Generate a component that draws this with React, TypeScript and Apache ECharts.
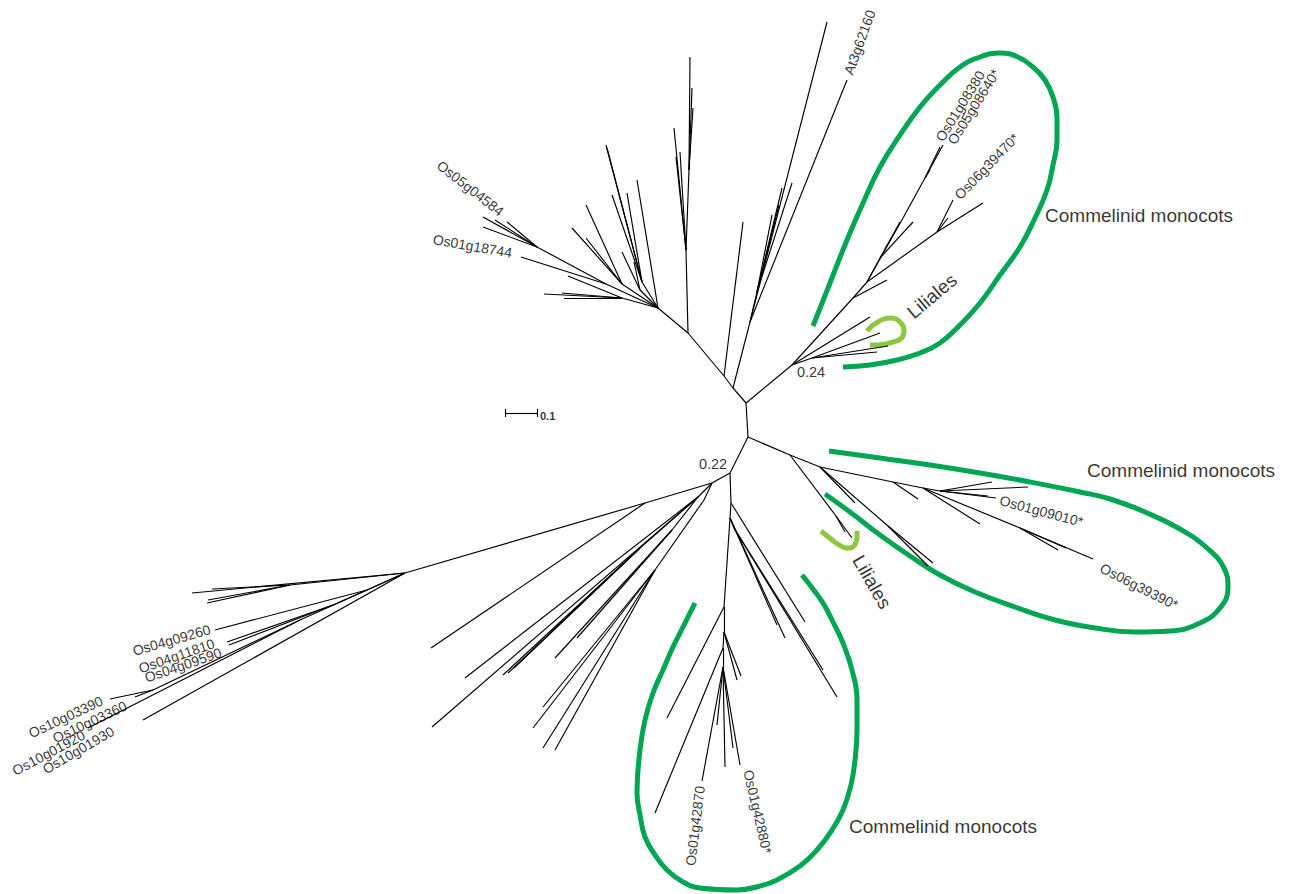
import React, { useEffect, useRef } from 'react';
import * as echarts from 'echarts';

const W = 1289;
const H = 894;

// Tree nodes: [id, parent, x, y] in drawing units (x to the right, y downward)
type NodeRow = [string, string, number, number];

const coreNodes: NodeRow[] = [
  ['A', '', 746, 403],
  ['J', 'A', 748, 437],
  ['K', 'J', 730, 473],
  ['B', 'A', 733, 388],
  ['M', 'A', 792, 365],
];

const dicotNodes: NodeRow[] = [
  ['G', 'B', 750, 322],
  ['t1', 'G', 827, 22],
  ['At3g62160', 'G', 847, 80],
  ['G2', 'G', 757, 292],
  ['g1', 'G2', 772, 215], ['g2', 'G2', 782, 188], ['g3', 'G2', 792, 183], ['g4', 'G2', 779, 205],
  ['E', 'B', 724, 376],
  ['e1', 'E', 743, 222],
  ['C', 'E', 688, 333],
  ['c1', 'C', 686, 250],
  ['c1a', 'c1', 674, 128], ['c1b', 'c1', 676, 157], ['c1c', 'c1', 680, 152],
  ['c2', 'c1', 689, 170],
  ['c2a', 'c2', 690, 57], ['c2b', 'c2', 692, 88], ['c2c', 'c2', 693, 108],
  ['D', 'C', 658, 308],
  ['d0', 'D', 637, 180],
  ['d1', 'D', 642, 282],
  ['d1a', 'd1', 606, 145], ['d1b', 'd1', 607, 148], ['d1c', 'd1', 612, 195], ['d1d', 'd1', 627, 193],
  ['d2', 'D', 640, 290],
  ['d2a', 'd2', 622, 252], ['d2b', 'd2', 634, 262],
  ['d3', 'D', 622, 284],
  ['d3a', 'd3', 586, 205], ['d3b', 'd3', 572, 228], ['d3c', 'd3', 586, 238],
  ['d4', 'D', 606, 284],
  ['I', 'd4', 537, 247],
  ['i1', 'I', 483, 217], ['i2', 'I', 483, 227], ['i3', 'I', 495, 220], ['Os05g04584', 'I', 507, 222],
  ['Os01g18744', 'd4', 521, 257],
  ['d5', 'D', 622, 298],
  ['d5a', 'd5', 544, 294], ['d5b', 'd5', 562, 293], ['d5c', 'd5', 564, 298], ['d5d', 'd5', 568, 276],
];

const upperMonocotNodes: NodeRow[] = [
  ['m1', 'M', 812, 358],
  ['m1a', 'm1', 880, 333], ['m1b', 'm1', 888, 346], ['m1c', 'm1', 877, 352],
  ['m0', 'M', 870, 317],
  ['N', 'M', 853, 298],
  ['n1', 'N', 887, 280],
  ['O', 'N', 867, 282],
  ['o1', 'O', 880, 258],
  ['o1a', 'o1', 913, 222], ['o1b', 'o1', 900, 222],
  ['R1', 'O', 903, 218],
  ['R2', 'R1', 925, 178],
  ['Os01g08380', 'R2', 940, 147], ['Os05g08640', 'R2', 943, 145], ['r2', 'R2', 930, 170],
  ['S1', 'O', 937, 232],
  ['s1', 'S1', 983, 203],
  ['Os06g39470', 'S1', 953, 200],
  ['s2', 'S1', 948, 218],
];

const rightMonocotNodes: NodeRow[] = [
  ['L1', 'J', 790, 455],
  ['l1', 'L1', 836, 516],
  ['l1a', 'l1', 852, 538], ['l1b', 'l1', 845, 532],
  ['L2', 'L1', 820, 467],
  ['l2a', 'L2', 855, 503],
  ['l2', 'L2', 888, 526],
  ['l2b', 'l2', 933, 563], ['l2c', 'l2', 928, 566],
  ['L3', 'L2', 893, 482],
  ['l3a', 'L3', 918, 499],
  ['L4', 'L3', 923, 488],
  ['l4a', 'L4', 980, 524],
  ['L5', 'L4', 940, 491],
  ['l5a', 'L5', 992, 482], ['l5b', 'L5', 1028, 487], ['Os01g09010', 'L5', 996, 498], ['l5c', 'L5', 988, 496],
  ['L6', 'L4', 1020, 528],
  ['l6a', 'L6', 1058, 550], ['l6b', 'L6', 1066, 548],
  ['Os06g39390', 'L6', 1093, 559],
];

const lowerNodes: NodeRow[] = [
  ['P', 'K', 712, 483],
  ['p1', 'P', 645, 503],
  ['p1a', 'p1', 431, 648],
  ['Q', 'p1', 405, 573],
  ['p2', 'P', 698, 497],
  ['p2a', 'p2', 465, 678],
  ['p2b', 'p2', 432, 727],
  ['p3', 'p2', 640, 548],
  ['p3a', 'p3', 503, 675], ['p3b', 'p3', 508, 673], ['p3c', 'p3', 514, 668],
  ['p4', 'p2', 672, 530],
  ['p4a', 'p4', 555, 658], ['p4b', 'p4', 577, 638],
  ['p5', 'P', 704, 500],
  ['p6', 'p5', 655, 570],
  ['p6a', 'p6', 543, 707], ['p6b', 'p6', 533, 728], ['p6c', 'p6', 543, 748], ['p6d', 'p6', 555, 750],
  ['v1', 'K', 731, 503],
  ['v1a', 'v1', 805, 622],
  ['v2', 'v1', 730, 518],
  ['v2a', 'v2', 785, 638], ['v2b', 'v2', 777, 625],
  ['v3', 'v2', 734, 528],
  ['v3a', 'v3', 837, 697], ['v3b', 'v3', 823, 670],
  ['v4', 'v2', 724, 607],
  ['v4a', 'v4', 667, 718],
  ['v5', 'v4', 724, 632],
  ['v5a', 'v5', 741, 676], ['v5b', 'v5', 737, 680],
  ['v6', 'v5', 723, 648],
  ['v6a', 'v6', 655, 813],
  ['v7', 'v6', 723, 667],
  ['Os01g42870', 'v7', 702, 781],
  ['v7a', 'v7', 717, 725],
  ['v7b', 'v7', 725, 767],
  ['Os01g42880', 'v7', 740, 765],
  ['v7c', 'v7', 733, 748],
];

const leftNodes: NodeRow[] = [
  ['q0', 'Q', 192, 593],
  ['q1', 'Q', 290, 585],
  ['q1a', 'q1', 212, 589], ['q1b', 'q1', 208, 600], ['q1c', 'q1', 207, 603],
  ['q2', 'Q', 367, 590],
  ['Os04g09260', 'q2', 215, 630],
  ['q3', 'q2', 333, 605],
  ['Os04g11810', 'q3', 227, 642], ['Os04g09590', 'q3', 229, 645],
  ['q4', 'Q', 300, 620],
  ['q5', 'q4', 153, 690],
  ['Os10g03390', 'q5', 110, 699], ['Os10g03360', 'q5', 135, 697],
  ['Os10g01920', 'q4', 88, 728],
  ['Os10g01930', 'Q', 143, 720],
];

// Clade outlines as ordered outline points
const upperLoop: number[][] = [
  [813, 326], [830, 283], [847, 240], [863, 203], [880, 167], [900, 135], [920, 107], [940, 85],
  [960, 67], [980, 57], [1000, 53], [1018, 57], [1033, 67], [1045, 80], [1053, 97], [1057, 118],
  [1057, 140], [1053, 165], [1047, 190], [1035, 218], [1020, 247], [1000, 275], [980, 303],
  [960, 325], [940, 343], [920, 353], [897, 360], [870, 365], [843, 367],
];
const rightLoop: number[][] = [
  [829, 451], [880, 458], [930, 465], [980, 473], [1030, 482], [1080, 492], [1110, 499],
  [1145, 512], [1180, 529], [1207, 548], [1224, 568], [1228, 588], [1220, 608], [1200, 623],
  [1170, 631], [1135, 632], [1095, 628], [1055, 620], [1015, 607], [975, 592], [940, 575],
  [910, 556], [880, 535], [850, 512], [825, 494],
];
const lowerLoop: number[][] = [
  [695, 603], [684, 625], [673, 647], [663, 670], [653, 693], [645, 720], [640, 750], [637, 793],
  [640, 815], [645, 837], [655, 855], [667, 870], [683, 882], [700, 888], [737, 890], [760, 886],
  [777, 880], [800, 866], [817, 850], [832, 830], [843, 810], [851, 785], [855, 760], [857, 730],
  [857, 700], [852, 670], [843, 643], [833, 622], [823, 603], [813, 589], [802, 575],
];
const upperHook: number[][] = [
  [867, 331], [872, 326], [878, 322], [884, 319], [890, 318], [896, 319], [900, 322], [903, 326],
  [904, 331], [903, 336], [899, 340], [893, 342], [886, 344], [878, 345], [870, 345],
];
const lowerHook: number[][] = [
  [821, 531], [826, 535], [831, 539], [836, 543], [841, 546], [846, 548], [850, 548], [854, 546],
  [856, 542], [857, 537], [857, 531],
];

// Leaf labels: [text, x, y, rotation (deg, counter-clockwise), align]
const leafLabels: [string, number, number, number, string][] = [
  ['At3g62160', 848, 74, 70, 'left'],
  ['Os05g04584', 502, 213, -38, 'right'],
  ['Os01g18744', 512, 253, -10, 'right'],
  ['Os01g08380', 939, 140, 58, 'left'],
  ['Os05g08640*', 951, 143, 58, 'left'],
  ['Os06g39470*', 957, 197, 46, 'left'],
  ['Os01g09010*', 1000, 500, -15, 'left'],
  ['Os06g39390*', 1101, 567, -27, 'left'],
  ['Os01g42870', 700, 786, 83, 'right'],
  ['Os01g42880*', 748, 770, -77, 'left'],
  ['Os04g09260', 210, 629, 16, 'right'],
  ['Os04g11810', 214, 643, 19, 'right'],
  ['Os04g09590', 221, 652, 19, 'right'],
  ['Os10g03390', 102, 700, 25, 'right'],
  ['Os10g03360', 126, 705, 25, 'right'],
  ['Os10g01920', 84, 734, 28, 'right'],
  ['Os10g01930', 113, 730, 30, 'right'],
];

// Clade names: [text, x, y, rotation]
const cladeLabels: [string, number, number, number][] = [
  ['Commelinid monocots', 1139, 215, 0],
  ['Commelinid monocots', 1181, 470, 0],
  ['Commelinid monocots', 943, 826, 0],
  ['Liliales', 932, 296, 40],
  ['Liliales', 872, 582, -60],
];

// Bootstrap support values at the two deep nodes
const supportLabels: [string, number, number][] = [
  ['0.24', 811, 372],
  ['0.22', 713, 464],
];

// Scale bar: 0.1 substitutions per site
const scaleBarValue = '0.1';
const scaleBarSegments: number[][][] = [
  [[505, 413], [537, 413]],
  [[505, 409], [505, 417]],
  [[537, 409], [537, 417]],
];
const scaleBarLabelAt = [540, 416];

const FONT = '"Liberation Sans", Arial, Helvetica, sans-serif';
const GREEN = '#00a651';
const LIGHT_GREEN = '#8dc63f';
const INK = '#000000';

function buildEdges(rows: NodeRow[]) {
  const pos = new Map<string, number[]>();
  rows.forEach((r) => pos.set(r[0], [r[2], r[3]]));
  return rows
    .filter((r) => r[1] && pos.has(r[1]))
    .map((r) => ({ coords: [pos.get(r[1]) as number[], [r[2], r[3]]] }));
}

function outline(points: number[][], color: string, width: number) {
  return {
    type: 'line',
    data: points,
    smooth: 0.45,
    symbol: 'none',
    silent: true,
    z: 1,
    lineStyle: { color, width, cap: 'butt' },
  };
}

function textSeries(items: any[], z = 5) {
  return {
    type: 'scatter',
    symbol: 'circle',
    symbolSize: 1,
    silent: true,
    z,
    itemStyle: { color: 'rgba(0,0,0,0)' },
    data: items,
  };
}

function textItem(
  t: string,
  x: number,
  y: number,
  rotate: number,
  align: string,
  fontSize: number,
  fontWeight: string = 'normal'
) {
  return {
    value: [x, y],
    name: t,
    label: {
      show: true,
      position: 'inside',
      formatter: t,
      rotate,
      align,
      verticalAlign: 'middle',
      color: INK,
      fontSize,
      fontWeight,
      fontFamily: FONT,
      textBorderWidth: 0,
    },
  };
}

export default function App() {
  const ref = useRef<HTMLDivElement>(null);

  useEffect(() => {
    if (!ref.current) return;
    const chart = echarts.init(ref.current, undefined, { renderer: 'svg' });
    const allNodes = [
      ...coreNodes,
      ...dicotNodes,
      ...upperMonocotNodes,
      ...rightMonocotNodes,
      ...lowerNodes,
      ...leftNodes,
    ];
    const edges = buildEdges(allNodes);

    const leafItems = leafLabels.map(([t, x, y, r, a]) => textItem(t, x, y, r, a, 14));
    const cladeItems = cladeLabels.map(([t, x, y, r]) => textItem(t, x, y, r, 'center', 19));
    const supportItems = supportLabels.map(([t, x, y]) => textItem(t, x, y, 0, 'center', 14.5));
    const scaleItems = [
      textItem(scaleBarValue, scaleBarLabelAt[0], scaleBarLabelAt[1], 0, 'left', 11, 'bold'),
    ];

    chart.setOption({
      animation: false,
      backgroundColor: '#ffffff',
      grid: { left: 0, right: 0, top: 0, bottom: 0 },
      xAxis: { type: 'value', min: 0, max: W, show: false },
      yAxis: { type: 'value', min: 0, max: H, inverse: true, show: false },
      series: [
        outline(upperLoop, GREEN, 5),
        outline(rightLoop, GREEN, 5),
        outline(lowerLoop, GREEN, 5),
        outline(upperHook, LIGHT_GREEN, 5),
        outline(lowerHook, LIGHT_GREEN, 5),
        {
          type: 'lines',
          coordinateSystem: 'cartesian2d',
          silent: true,
          z: 2,
          lineStyle: { color: INK, width: 1.15, opacity: 1, curveness: 0 },
          data: edges,
        },
        {
          type: 'lines',
          coordinateSystem: 'cartesian2d',
          silent: true,
          z: 2,
          lineStyle: { color: INK, width: 1.15, opacity: 1, curveness: 0 },
          data: scaleBarSegments.map((c) => ({ coords: c })),
        },
        textSeries(leafItems),
        textSeries(cladeItems),
        textSeries(supportItems),
        textSeries(scaleItems),
      ],
    });
    return () => chart.dispose();
  }, []);

  return (
    <div
      ref={ref}
      style={{ position: 'absolute', left: 0, top: 0, width: W, height: H, background: '#fff' }}
    />
  );
}
